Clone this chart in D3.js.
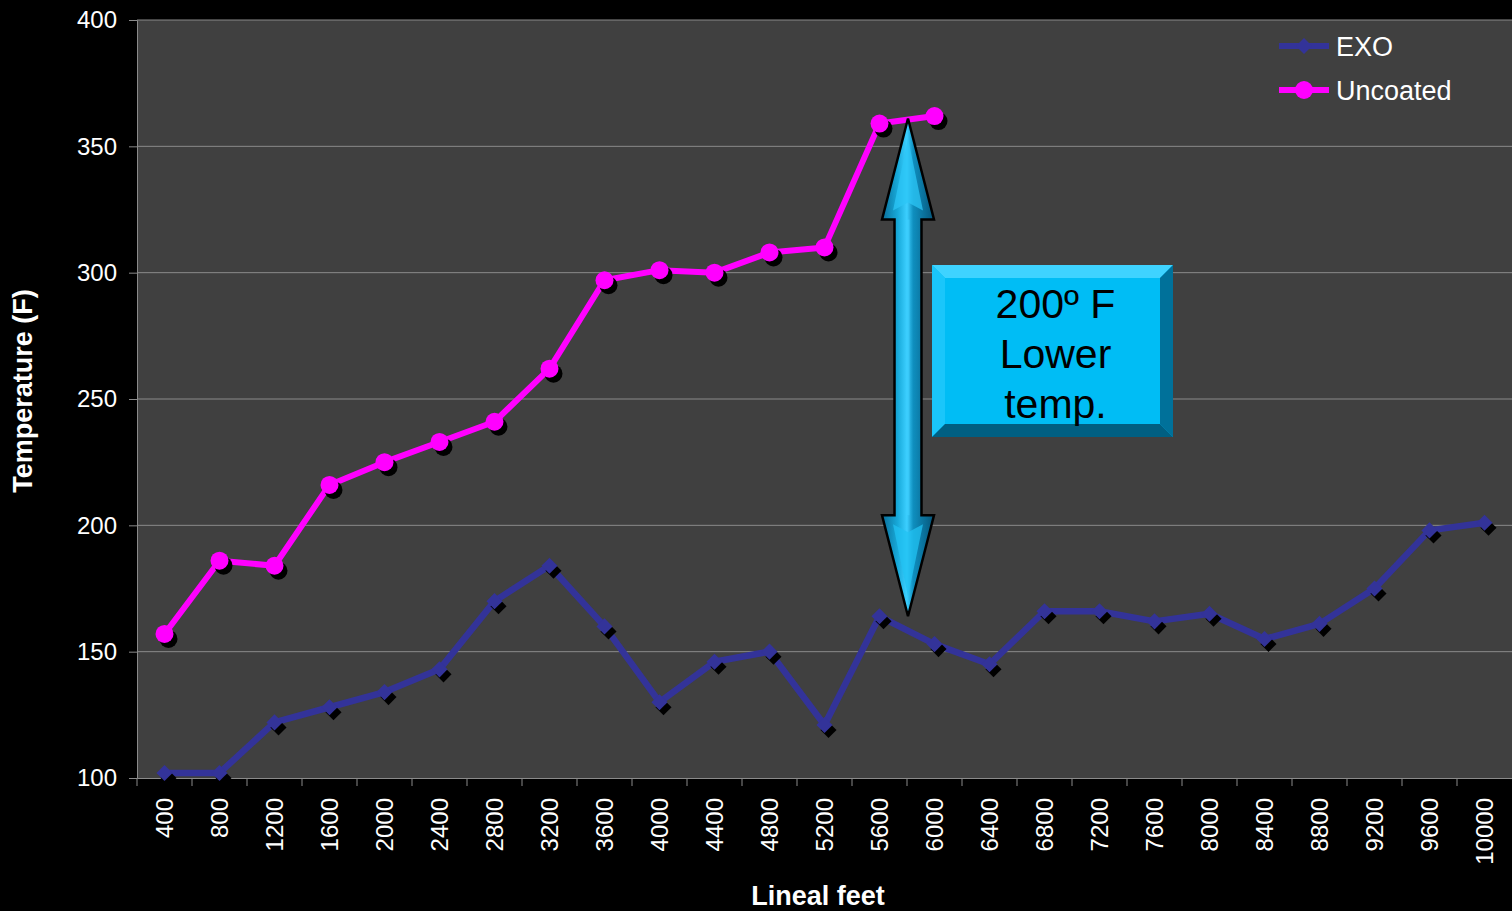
<!DOCTYPE html>
<html>
<head>
<meta charset="utf-8">
<script src="https://cdn.jsdelivr.net/npm/d3@7"></script>
<style>
  body { margin: 0; background: #000; }
  svg text { font-family: Arial, "Liberation Sans", sans-serif; }
</style>
</head>
<body>
<div id="chart"></div>
<script>
// categories and series
var feet = ["400","800","1200","1600","2000","2400","2800","3200","3600","4000","4400","4800","5200",
  "5600","6000","6400","6800","7200","7600","8000","8400","8800","9200","9600","10000"]
var exo = [102,102,122,128,134,143,170,184,160,130,146,150,121,164,153,145,166,166,162,165,155,161,175,198,201]
var uncoated = [157,186,184,216,225,233,241,262,297,301,300,308,310,359,362]
var yTicks = [100,150,200,250,300,350,400]
var noteLines = ["200\u00BA F", "Lower", "temp."]

var W = 1512, H = 911
var margin = {top: 20, right: 0, bottom: 133, left: 137},
  width = W - margin.left - margin.right,
  height = H - margin.top - margin.bottom

var svg = d3.select("#chart").append("svg")
  .attr("width", W)
  .attr("height", H)

var defs = svg.append("defs")
var grad = defs.append("linearGradient").attr("id", "arrowGrad")
  .attr("x1", "0%").attr("x2", "100%").attr("y1", "0%").attr("y2", "0%")
grad.selectAll("stop")
  .data([["0%","#0a6d98"],["30%","#17a9d9"],["48%","#3ccfff"],["60%","#0f8fbf"],["100%","#06557a"]])
  .enter().append("stop")
  .attr("offset", function(d){ return d[0] })
  .attr("stop-color", function(d){ return d[1] })

var g = svg.append("g")
  .attr("transform", "translate(" + margin.left + "," + margin.top + ")")

// plot background
g.append("rect")
  .attr("width", width)
  .attr("height", height)
  .attr("fill", "#404040")

var x = d3.scaleBand()
  .range([0, width])
  .domain(feet)
  .padding(0)

var y = d3.scaleLinear()
  .range([height, 0])
  .domain([100, 400])

function cx(d, i) { return x(feet[i]) + x.bandwidth() / 2 }

// gridlines
g.selectAll(".grid")
  .data(yTicks.slice(1))
  .enter().append("line")
  .attr("x1", 0).attr("x2", width)
  .attr("y1", function(d){ return y(d) })
  .attr("y2", function(d){ return y(d) })
  .attr("stroke", "#8a8a8a")
  .attr("stroke-width", 1)

// y axis
var yAxis = g.append("g")
  .call(d3.axisLeft(y).tickValues(yTicks).tickSize(8).tickPadding(12))
yAxis.select(".domain").attr("stroke", "#8a8a8a")
yAxis.selectAll(".tick line").attr("stroke", "#8a8a8a")
yAxis.selectAll("text")
  .attr("fill", "#fff")
  .style("font-size", "24px")

// x axis
var xAxis = g.append("g")
  .attr("transform", "translate(0," + height + ")")
  .call(d3.axisBottom(x).tickSize(0))
xAxis.select(".domain").attr("stroke", "#8a8a8a")
xAxis.selectAll("text")
  .attr("fill", "#fff")
  .style("font-size", "24px")
  .style("text-anchor", "end")
  .attr("transform", "rotate(-90)")
  .attr("x", -20)
  .attr("y", 0)
  .attr("dy", "0.35em")

// x tick marks sit between categories
xAxis.selectAll(".sep")
  .data(feet)
  .enter().append("line")
  .attr("x1", function(d){ return x(d) })
  .attr("x2", function(d){ return x(d) })
  .attr("y1", 0).attr("y2", 8)
  .attr("stroke", "#8a8a8a")

// axis titles
svg.append("text")
  .attr("transform", "translate(32,391) rotate(-90)")
  .attr("text-anchor", "middle")
  .attr("fill", "#fff")
  .style("font-size", "27px")
  .style("font-weight", "bold")
  .text("Temperature (F)")

svg.append("text")
  .attr("x", 818)
  .attr("y", 905)
  .attr("text-anchor", "middle")
  .attr("fill", "#fff")
  .style("font-size", "27px")
  .style("font-weight", "bold")
  .text("Lineal feet")

var line = d3.line()
  .x(cx)
  .y(function(d){ return y(d) })

var diamond = d3.symbol().type(d3.symbolDiamond2).size(165)

// EXO series
g.append("path")
  .datum(exo)
  .attr("d", line)
  .attr("fill", "none")
  .attr("stroke", "#333399")
  .attr("stroke-width", 6.5)
  .attr("stroke-linejoin", "round")

g.selectAll(".exoShadow")
  .data(exo)
  .enter().append("path")
  .attr("d", diamond)
  .attr("transform", function(d, i){ return "translate(" + (cx(d, i) + 4) + "," + (y(d) + 5) + ")" })
  .attr("fill", "#000")

g.selectAll(".exoMark")
  .data(exo)
  .enter().append("path")
  .attr("d", diamond)
  .attr("transform", function(d, i){ return "translate(" + cx(d, i) + "," + y(d) + ")" })
  .attr("fill", "#333399")

// Uncoated series
g.append("path")
  .datum(uncoated)
  .attr("d", line)
  .attr("fill", "none")
  .attr("stroke", "#ff00ff")
  .attr("stroke-width", 6)
  .attr("stroke-linejoin", "round")

g.selectAll(".unShadow")
  .data(uncoated)
  .enter().append("circle")
  .attr("cx", function(d, i){ return cx(d, i) + 4 })
  .attr("cy", function(d){ return y(d) + 5 })
  .attr("r", 9)
  .attr("fill", "#000")

g.selectAll(".unMark")
  .data(uncoated)
  .enter().append("circle")
  .attr("cx", cx)
  .attr("cy", function(d){ return y(d) })
  .attr("r", 9)
  .attr("fill", "#ff00ff")

// double arrow between the two curves
var ax = x("6000") + 1, aTop = y(361), aBot = y(164)
var headL = 101, headW = 26, shaftW = 13.5
function pts(list) { return list.map(function(p){ return p.join(",") }).join(" ") }
var arrowPts = [
  [ax, aTop], [ax + headW, aTop + headL], [ax + shaftW, aTop + headL],
  [ax + shaftW, aBot - headL], [ax + headW, aBot - headL], [ax, aBot],
  [ax - headW, aBot - headL], [ax - shaftW, aBot - headL],
  [ax - shaftW, aTop + headL], [ax - headW, aTop + headL]
]
g.append("polygon")
  .attr("points", pts(arrowPts))
  .attr("fill", "url(#arrowGrad)")
  .attr("stroke", "#000")
  .attr("stroke-width", 2.5)
  .attr("stroke-linejoin", "miter")

// bevel highlights inside the heads
g.append("polygon")
  .attr("points", pts([[ax, aTop + 20], [ax + 15, aTop + 92], [ax, aTop + 84], [ax - 15, aTop + 92]]))
  .attr("fill", "#2cc6f5").attr("opacity", 0.75)
g.append("polygon")
  .attr("points", pts([[ax, aBot - 20], [ax + 15, aBot - 92], [ax, aBot - 84], [ax - 15, aBot - 92]]))
  .attr("fill", "#22c2f2").attr("opacity", 0.75)
g.append("line")
  .attr("x1", ax).attr("x2", ax)
  .attr("y1", aTop + headL).attr("y2", aBot - headL)
  .attr("stroke", "#3fd0ff").attr("stroke-width", 3).attr("opacity", 0.6)

// note box
var bx = ax + 24, bw = 241, by = y(303), bh = y(235) - y(303), bev = 13
var box = g.append("g")
box.append("rect")
  .attr("x", bx).attr("y", by).attr("width", bw).attr("height", bh)
  .attr("fill", "#00bdf5")
box.append("polygon")
  .attr("points", pts([[bx, by], [bx + bw, by], [bx + bw - bev, by + bev], [bx + bev, by + bev]]))
  .attr("fill", "#3fd3ff")
box.append("polygon")
  .attr("points", pts([[bx, by], [bx + bev, by + bev], [bx + bev, by + bh - bev], [bx, by + bh]]))
  .attr("fill", "#1ac6fa")
box.append("polygon")
  .attr("points", pts([[bx + bw, by], [bx + bw, by + bh], [bx + bw - bev, by + bh - bev], [bx + bw - bev, by + bev]]))
  .attr("fill", "#00719a")
box.append("polygon")
  .attr("points", pts([[bx, by + bh], [bx + bw, by + bh], [bx + bw - bev, by + bh - bev], [bx + bev, by + bh - bev]]))
  .attr("fill", "#005f82")

box.selectAll("text")
  .data(noteLines)
  .enter().append("text")
  .attr("x", bx + bw / 2 + 3)
  .attr("y", function(d, i){ return by + 53 + i * 50 })
  .attr("text-anchor", "middle")
  .attr("fill", "#000")
  .style("font-size", "41px")
  .text(function(d){ return d })

// legend
var legend = svg.append("g")
var legendItems = [["EXO", "#333399", "diamond"], ["Uncoated", "#ff00ff", "circle"]]
legendItems.forEach(function(item, i){
  var ly = 46 + i * 44
  legend.append("line")
    .attr("x1", 1279).attr("x2", 1329)
    .attr("y1", ly).attr("y2", ly)
    .attr("stroke", item[1])
    .attr("stroke-width", 6)
  if (item[2] == "diamond") {
    legend.append("path")
      .attr("d", diamond)
      .attr("transform", "translate(1304," + ly + ")")
      .attr("fill", item[1])
  } else {
    legend.append("circle")
      .attr("cx", 1304).attr("cy", ly).attr("r", 9)
      .attr("fill", item[1])
  }
  legend.append("text")
    .attr("x", 1336)
    .attr("y", ly)
    .attr("dy", "0.36em")
    .attr("fill", "#fff")
    .style("font-size", "27px")
    .text(item[0])
})
</script>
</body>
</html>
